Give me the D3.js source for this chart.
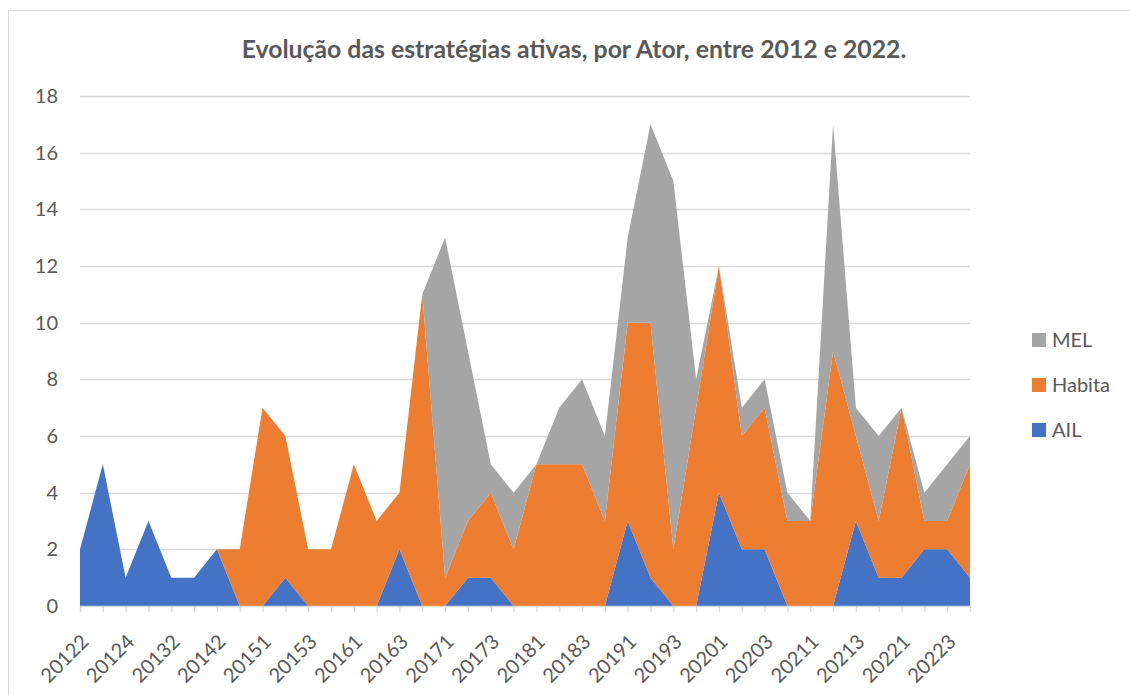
<!DOCTYPE html>
<html>
<head>
<meta charset="utf-8">
<script src="https://cdn.jsdelivr.net/npm/d3@7"></script>
<style>
  body { margin: 0; background: #fff; }
  svg { display: block; font-family: Lato, 'Open Sans', sans-serif; }
</style>
</head>
<body>
<svg width="1130" height="695"></svg>
<script>
var categories = ['20122', '20123', '20124', '20131', '20132', '20134', '20142', '20144',
  '20151', '20152', '20153', '20154', '20161', '20162', '20163', '20164',
  '20171', '20172', '20173', '20174', '20181', '20182', '20183', '20184',
  '20191', '20192', '20193', '20194', '20201', '20202', '20203', '20204',
  '20211', '20212', '20213', '20214', '20221', '20222', '20223', '20224']

var ail = [2, 5, 1, 3, 1, 1, 2, 0, 0, 1, 0, 0, 0, 0, 2, 0, 0, 1, 1, 0,
  0, 0, 0, 0, 3, 1, 0, 0, 4, 2, 2, 0, 0, 0, 3, 1, 1, 2, 2, 1]
var habita = [0, 0, 0, 0, 0, 0, 0, 2, 7, 5, 2, 2, 5, 3, 2, 11, 1, 2, 3, 2,
  5, 5, 5, 3, 7, 9, 2, 7, 8, 4, 5, 3, 3, 9, 3, 2, 6, 1, 1, 4]
var mel = [0, 0, 0, 0, 0, 0, 0, 0, 0, 0, 0, 0, 0, 0, 0, 0, 12, 6, 1, 2,
  0, 2, 3, 3, 3, 7, 13, 1, 0, 1, 1, 1, 0, 8, 1, 3, 0, 1, 2, 1]

var yTicks = [0, 2, 4, 6, 8, 10, 12, 14, 16, 18]
var seriesNames = ['AIL', 'Habita', 'MEL']
var colors = ['#4472C4', '#ED7D31', '#A5A5A5']
var title = 'Evolução das estratégias ativas, por Ator, entre 2012 e 2022.'

var draw = () => {
  var svg = d3.select('svg')
  var grid = '#d9d9d9'
  var txt = '#595959'

  // chart frame (only top and left visible in the crop)
  svg.append('line').attr('x1', 8.5).attr('x2', 1130).attr('y1', 10.5).attr('y2', 10.5)
    .attr('stroke', grid)
  svg.append('line').attr('x1', 8.5).attr('x2', 8.5).attr('y1', 10.5).attr('y2', 695)
    .attr('stroke', grid)

  var x = d3.scalePoint().domain(categories).range([80, 970])
  var y = d3.scaleLinear().domain([0, 18]).range([606, 96])

  // gridlines
  svg.append('g').selectAll('line').data(yTicks.slice(1)).enter().append('line')
    .attr('x1', 80).attr('x2', 970)
    .attr('y1', d => Math.round(y(d)) + 0.5).attr('y2', d => Math.round(y(d)) + 0.5)
    .attr('stroke', grid).attr('stroke-width', 1.3)

  var rows = categories.map((c, i) => ({ cat: c, AIL: ail[i], Habita: habita[i], MEL: mel[i] }))
  var stacked = d3.stack().keys(seriesNames)(rows)

  var area = d3.area()
    .x(d => x(d.data.cat))
    .y0(d => y(d[0]))
    .y1(d => y(d[1]))

  svg.append('g').selectAll('path').data(stacked).enter().append('path')
    .attr('d', area)
    .attr('fill', (d, i) => colors[i])

  // x axis
  var xAxis = svg.append('g').attr('transform', 'translate(0,606)')
    .call(d3.axisBottom(x).tickSize(6).tickFormat(''))
  xAxis.select('.domain').attr('stroke', grid).attr('stroke-width', 1.3)
  xAxis.selectAll('.tick line').attr('stroke', grid).attr('stroke-width', 1.3)

  svg.append('g').selectAll('text').data(categories.filter((c, i) => i % 2 === 0)).enter().append('text')
    .attr('transform', d => 'translate(' + (x(d) + 5) + ',638) rotate(-45)')
    .attr('text-anchor', 'end')
    .attr('dy', '0.35em')
    .attr('font-size', 20)
    .attr('fill', txt)
    .text(d => d)

  // y axis labels
  var yAxis = svg.append('g').attr('transform', 'translate(80,0)')
    .call(d3.axisLeft(y).tickValues(yTicks).tickSize(0).tickPadding(22))
  yAxis.select('.domain').remove()
  yAxis.selectAll('text').attr('font-size', 20).attr('fill', txt).attr('font-family', 'Lato, sans-serif')

  // title
  var t = svg.append('text')
    .attr('x', 574).attr('y', 58)
    .attr('text-anchor', 'middle')
    .attr('font-size', 22).attr('font-weight', 'bold')
    .attr('fill', txt)
    .text(title)
  var len = t.node().getComputedTextLength()
  t.attr('font-size', 22 * 665 / len)

  // legend (top to bottom: MEL, Habita, AIL)
  var legendY = [340, 385, 430]
  var order = [2, 1, 0]
  var lg = svg.append('g').selectAll('g').data(order).enter().append('g')
    .attr('transform', (d, i) => 'translate(1032,' + legendY[i] + ')')
  lg.append('rect').attr('x', 0).attr('y', -7).attr('width', 14).attr('height', 14)
    .attr('fill', d => colors[d])
  lg.append('text').attr('x', 20).attr('dy', '0.35em')
    .attr('font-size', 20).attr('fill', txt)
    .text(d => seriesNames[d])
}

if (document.readyState === 'loading') {
  document.addEventListener('DOMContentLoaded', draw)
} else {
  draw()
}
</script>
</body>
</html>
